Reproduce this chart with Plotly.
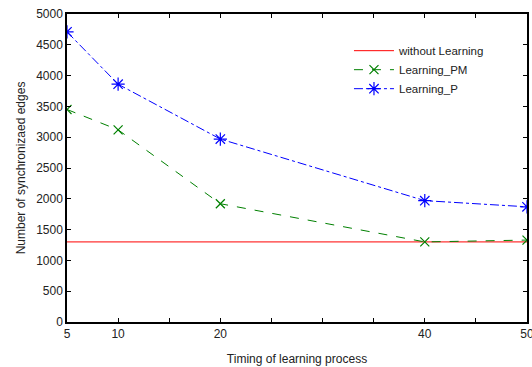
import plotly.graph_objects as go

x_vals = [5, 10, 20, 40, 50]
without_learning = [1300, 1300, 1300, 1300, 1300]
learning_pm = [3450, 3120, 1920, 1300, 1330]
learning_p = [4710, 3860, 2970, 1970, 1870]

x_tick_vals = [5, 10, 15, 20, 25, 30, 35, 40, 45, 50]
x_tick_text = ["5", "10", "", "20", "", "", "", "40", "", "50"]
y_tick_vals = [0, 500, 1000, 1500, 2000, 2500, 3000, 3500, 4000, 4500, 5000]

FONT = "Liberation Sans, Arial"

fig = go.Figure()
fig.add_trace(go.Scatter(x=x_vals, y=without_learning, mode="lines", name="without Learning",
                         line=dict(color="#ff0000", width=1)))
fig.add_trace(go.Scatter(x=x_vals, y=learning_pm, mode="lines+markers", name="Learning_PM",
                         line=dict(color="#008000", width=1, dash="dash"),
                         marker=dict(symbol="x-thin", size=9, line=dict(color="#008000", width=1.2))))
fig.add_trace(go.Scatter(x=x_vals, y=learning_p, mode="lines+markers", name="Learning_P",
                         line=dict(color="#0000ff", width=1, dash="dashdot"),
                         marker=dict(symbol="asterisk-open", size=11, line=dict(color="#0000ff", width=1.2))))

axis_common = dict(showline=True, linecolor="black", linewidth=1.5, mirror="ticks",
                   ticks="inside", ticklen=4, tickcolor="black", showgrid=False, zeroline=False,
                   ticklabeloverflow="allow",
                   tickfont=dict(family=FONT, size=12, color="#222"))

fig.update_xaxes(range=[5, 50], tickmode="array", tickvals=x_tick_vals, ticktext=x_tick_text,
                 title=dict(text="Timing of learning process", font=dict(family=FONT, size=12, color="#222"), standoff=14),
                 **axis_common)
fig.update_yaxes(range=[0, 5000], tickmode="array", tickvals=y_tick_vals,
                 title=dict(text="Number of synchronizaed edges", font=dict(family=FONT, size=12, color="#222"), standoff=8),
                 **axis_common)

fig.update_layout(
    width=532, height=367,
    margin=dict(l=67, r=5, t=14, b=45, autoexpand=False),
    plot_bgcolor="white", paper_bgcolor="white",
    legend=dict(x=0.613, y=0.928, xanchor="left", yanchor="top", bgcolor="rgba(0,0,0,0)",
                font=dict(family=FONT, size=11.5, color="#222"),
                tracegroupgap=0, itemwidth=40),
    showlegend=True,
)

fig.write_html("out.html", config={"displayModeBar": False},
               post_script="document.body.style.margin='0';")
